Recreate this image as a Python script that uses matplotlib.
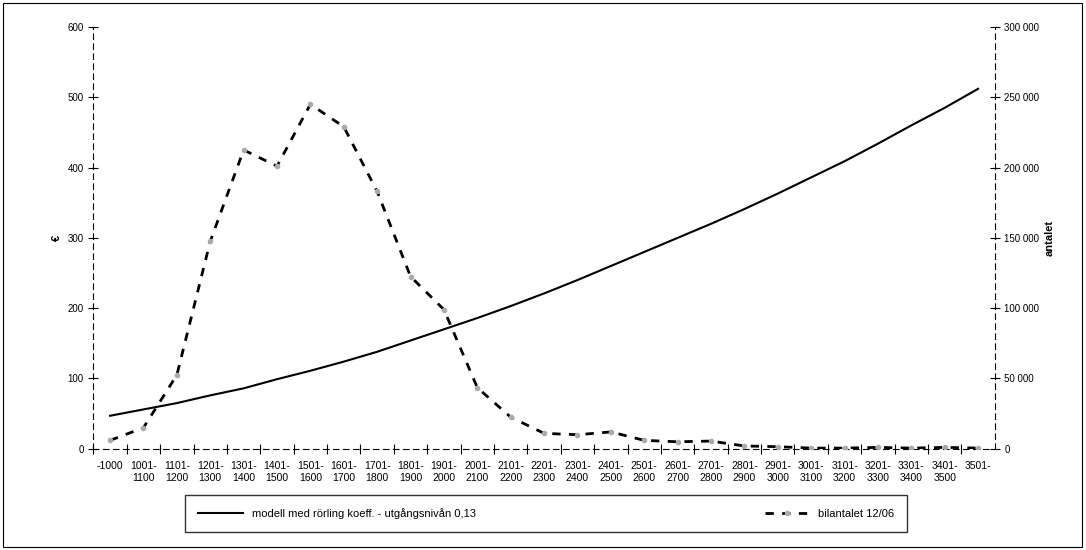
import numpy as np
import matplotlib.pyplot as plt
from matplotlib.patches import Rectangle

labels = ['-1000'] + ['%d-\n%d' % (s, s + 99) for s in range(1001, 3501, 100)] + ['3501-']
model = [47, 56, 65, 76, 86, 99, 111, 124, 138, 154, 170, 186, 203, 221, 240,
         260, 280, 300, 320, 341, 363, 386, 409, 434, 460, 485, 512]
cars = [6000, 15000, 52500, 147500, 212500, 201000, 245000, 229000, 183000, 122500,
        99000, 43500, 22500, 11000, 10000, 12000, 6000, 5000, 5500, 2000, 1500,
        500, 500, 1000, 500, 1000, 500]

plt.rcParams['font.family'] = 'Liberation Sans'
fig = plt.figure(figsize=(10.86, 5.5), dpi=100)
fig.patches.append(Rectangle((0.003, 0.005), 0.993, 0.99, transform=fig.transFigure,
                             fill=False, edgecolor='black', linewidth=0.8))
ax = fig.add_axes([0.086, 0.184, 0.83, 0.767])
x = np.arange(len(labels))
ax.plot(x, model, color='black', linewidth=1.5, label='modell med rörling koeff. - utgångsnivån 0,13')
ax.set_ylim(0, 600)
ax.set_xlim(-0.5, len(labels) - 0.5)
ax.set_yticks(range(0, 601, 100))
ax.set_xticks(x - 0.5, minor=False)
ax.set_xticks(x, minor=True)
ax.set_xticklabels([])
ax.set_xticklabels(labels, minor=True, fontsize=7.5)
ax.tick_params(axis='x', which='major', direction='inout', length=7)
ax.tick_params(axis='x', which='minor', length=0, pad=9)
ax.tick_params(axis='y', labelsize=7, direction='inout', length=7)
ax.set_ylabel('€', fontsize=8, fontweight='bold')
for s in ['top', 'right']:
    ax.spines[s].set_visible(False)
for s in ['left', 'bottom']:
    ax.spines[s].set_linestyle((0, (5, 4)))

ax2 = ax.twinx()
ax2.plot(x, cars, color='black', linestyle=(0, (3, 3)), linewidth=2,
         marker='o', markersize=3, markerfacecolor='#aaaaaa', markeredgecolor='#aaaaaa',
         label='bilantalet 12/06')
ax2.set_ylim(0, 300000)
ax2.set_yticks(range(0, 300001, 50000))
ax2.set_yticklabels(['0'] + ['%d 000' % (v // 1000) for v in range(50000, 300001, 50000)], fontsize=7)
ax2.tick_params(axis='y', direction='inout', length=7)
ax2.set_ylabel('antalet', fontsize=8, fontweight='bold')
for s in ['top', 'left', 'bottom']:
    ax2.spines[s].set_visible(False)
ax2.spines['right'].set_linestyle((0, (5, 4)))

h1, l1 = ax.get_legend_handles_labels()
h2, l2 = ax2.get_legend_handles_labels()
fig.legend(h1 + h2, l1 + l2, loc='center', bbox_to_anchor=(0.503, 0.066), ncol=2,
           fontsize=8, frameon=True, fancybox=False, edgecolor='black',
           columnspacing=26, borderpad=1.2, handlelength=4, borderaxespad=0)
fig.savefig('out.png')
